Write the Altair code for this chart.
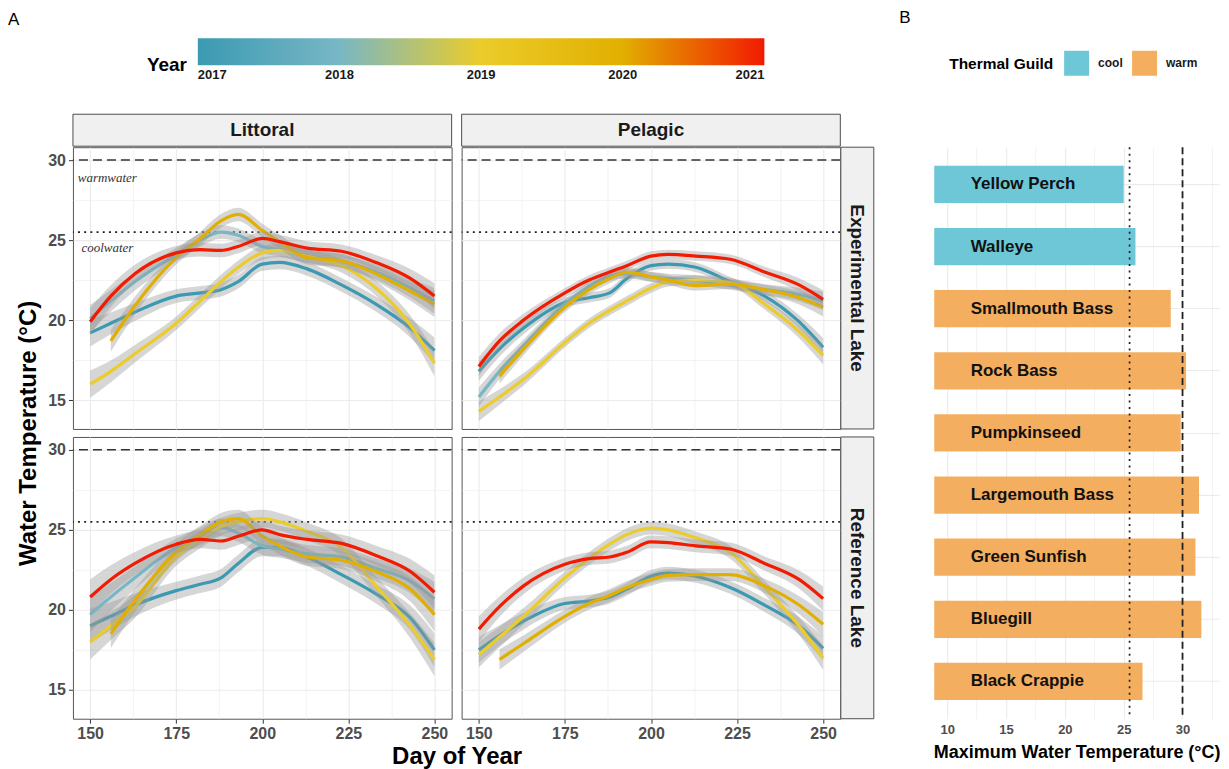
import altair as alt
import pandas as pd

FONT = "Liberation Sans"

# ---------------- data: panel A ----------------
years = [2017, 2018, 2019, 2020, 2021]
year_palette = ["#3B9AB2", "#78B7C5", "#EBCC2A", "#E1AF00", "#F21A00"]
days = [150, 156, 163, 175, 182, 188, 193, 200, 205, 213, 223, 233, 243, 250]
band_half = [1.0, 0.8, 0.65, 0.5, 0.5, 0.5, 0.5, 0.5, 0.5, 0.5, 0.5, 0.55, 0.7, 0.95]

littoral_experimental = {
    2017: [19.2, 19.8, 20.5, 21.5, 21.7, 21.9, 22.4, 23.5, 23.6, 23.2, 22.2, 21.0, 19.5, 18.1],
    2018: [20.1, 21.2, 22.4, 24.1, 25.0, 25.5, 25.3, 24.6, 24.4, 24.0, 23.7, 23.0, 22.0, 21.2],
    2019: [16.0, 16.8, 17.9, 19.8, 21.2, 22.4, 23.3, 24.2, 24.35, 24.0, 23.4, 22.0, 19.7, 17.3],
    2020: [None, 18.7, 20.9, 23.9, 25.1, 26.2, 26.6, 25.6, 24.9, 23.9, 23.7, 22.9, 21.8, 21.0],
    2021: [19.9, 21.5, 22.9, 24.2, 24.4, 24.35, 24.6, 25.1, 24.9, 24.5, 24.3, 23.6, 22.6, 21.5],
}
pelagic_experimental = {
    2017: [16.8, 18.2, 19.5, 21.1, 21.4, 21.7, 22.6, 23.4, 23.5, 23.3, 22.4, 21.5, 19.9, 18.3],
    2018: [15.2, 16.8, 18.4, 21.0, 22.1, 22.75, 22.9, 22.7, 22.6, 22.5, 22.2, 21.9, 21.6, 21.2],
    2019: [14.3, 15.2, 16.3, 18.6, 19.8, 20.6, 21.2, 22.0, 22.4, 22.5, 22.35, 21.0, 19.3, 17.8],
    2020: [None, 16.5, 18.2, 20.8, 21.9, 22.6, 23.0, 22.7, 22.5, 22.15, 22.25, 21.9, 21.4, 20.8],
    2021: [17.1, 18.7, 20.0, 21.7, 22.5, 23.0, 23.4, 24.0, 24.1, 24.0, 23.8, 23.0, 22.2, 21.3],
}
littoral_reference = {
    2017: [19.0, 19.6, 20.3, 21.2, 21.6, 22.0, 22.9, 23.9, 23.9, 23.3, 22.2, 21.0, 19.5, 17.5],
    2018: [19.7, 20.8, 22.0, 23.9, 24.6, 25.15, 24.8, 24.0, 23.8, 23.5, 23.3, 22.6, 21.8, 20.7],
    2019: [18.0, 19.0, 20.2, 23.3, 24.4, 25.2, 25.5, 25.7, 25.5, 24.9, 23.9, 21.5, 19.0, 16.9],
    2020: [None, 18.5, 20.6, 23.6, 24.7, 25.5, 25.7, 24.6, 24.0, 23.3, 23.1, 22.4, 21.3, 19.7],
    2021: [20.8, 21.9, 22.9, 24.1, 24.4, 24.3, 24.6, 25.0, 24.7, 24.4, 24.15, 23.4, 22.4, 21.1],
}
pelagic_reference = {
    2017: [17.5, 18.4, 19.3, 20.4, 20.55, 20.8, 21.3, 22.1, 22.3, 22.1, 21.4, 20.3, 19.0, 17.6],
    2019: [17.2, 18.3, 19.6, 22.0, 23.2, 24.1, 24.7, 25.1, 25.0, 24.5, 23.6, 21.4, 19.0, 17.0],
    2020: [None, 16.9, 17.9, 19.6, 20.4, 20.9, 21.4, 21.9, 22.15, 22.2, 22.2, 21.5, 20.3, 19.1],
    2021: [18.8, 20.2, 21.5, 22.85, 23.2, 23.3, 23.6, 24.25, 24.2, 24.0, 23.8, 22.9, 21.9, 20.7],
}
habitats = ["Littoral", "Pelagic"]
lakes = ["Experimental Lake", "Reference Lake"]
band_scale = {("Littoral", "Experimental Lake"): 0.85, ("Pelagic", "Experimental Lake"): 0.6,
              ("Littoral", "Reference Lake"): 1.1, ("Pelagic", "Reference Lake"): 0.8}
panel_series = {
    ("Littoral", "Experimental Lake"): littoral_experimental,
    ("Pelagic", "Experimental Lake"): pelagic_experimental,
    ("Littoral", "Reference Lake"): littoral_reference,
    ("Pelagic", "Reference Lake"): pelagic_reference,
}
warm_threshold = 30.0
cool_threshold = 25.5
annot_labels = ["warmwater", "coolwater"]
annot_day = [155, 155]
annot_temp = [28.9, 24.5]

# ---------------- data: panel B ----------------
species = ["Yellow Perch", "Walleye", "Smallmouth Bass", "Rock Bass", "Pumpkinseed",
           "Largemouth Bass", "Green Sunfish", "Bluegill", "Black Crappie"]
max_temp = [25.0, 26.0, 29.0, 30.3, 29.85, 31.4, 31.1, 31.6, 26.6]
guild = ["cool", "cool", "warm", "warm", "warm", "warm", "warm", "warm", "warm"]
guild_names = ["cool", "warm"]
guild_colors = ["#5DC1D2", "#F3A54E"]

# ---------------- build ----------------
rows = []
for key, series in panel_series.items():
    for yr, vals in series.items():
        for d, v, h in zip(days, vals, band_half):
            if v is None:
                continue
            hh = h * band_scale[key]
            rows.append(dict(habitat=key[0], lake=key[1], year=yr, day=d, temp=v,
                             lo=v - hh, hi=v + hh))
df = pd.DataFrame(rows)

W, H = 379, 282
xs = alt.Scale(domain=[145, 255], nice=False, zero=False)
ys = alt.Scale(domain=[13.2, 30.8], nice=False, zero=False)
x_grid = [150, 162.5, 175, 187.5, 200, 212.5, 225, 237.5, 250]
y_grid = [15, 17.5, 20, 22.5, 25, 27.5, 30]

stroke_enc = alt.Stroke(
    "year:Q",
    scale=alt.Scale(domain=years, range=year_palette, interpolate="rgb"),
    legend=alt.Legend(
        orient="none", legendX=74, legendY=-109, direction="horizontal",
        title="Year", titleOrient="left", titleFont=FONT, titleFontSize=19,
        titleFontWeight="bold", titleColor="black", titlePadding=10,
        titleAnchor="end", titleBaseline="middle",
        gradientLength=567, gradientThickness=27, gradientStrokeWidth=0,
        labelFont=FONT, labelFontSize=13, labelFontWeight="bold", labelColor="#1A1A1A",
        labelAlign="center", values=years, format="d", labelOffset=4,
    ),
)


def x_axis(show, title):
    kw = dict(
        values=x_grid, labelExpr="datum.value % 25 == 0 ? datum.label : ''",
        labels=show, ticks=show, domain=False, grid=True, gridColor="#EBEBEB",
        gridWidth={"condition": {"test": "datum.value % 25 == 0", "value": 1.1}, "value": 0.6},
        tickOpacity={"condition": {"test": "datum.value % 25 == 0", "value": 1}, "value": 0},
        tickSize=4.5, tickColor="#333333", tickWidth=1,
        labelFont=FONT, labelFontSize=16, labelFontWeight="bold", labelColor="#4D4D4D",
        labelPadding=2, labelFlush=False, labelOverlap=False,
    )
    if title:
        kw.update(title="Day of Year", titleX=384, titleFont=FONT, titleFontSize=24,
                  titleFontWeight="bold", titleColor="black", titlePadding=3)
    else:
        kw.update(title=None)
    return alt.Axis(**kw)


def y_axis(show, title):
    kw = dict(
        values=y_grid, labelExpr="datum.value % 5 == 0 ? datum.label : ''",
        labels=show, ticks=show, domain=False, grid=True, gridColor="#EBEBEB",
        gridWidth={"condition": {"test": "datum.value % 5 == 0", "value": 1.1}, "value": 0.6},
        tickOpacity={"condition": {"test": "datum.value % 5 == 0", "value": 1}, "value": 0},
        tickSize=4.5, tickColor="#333333", tickWidth=1,
        labelFont=FONT, labelFontSize=16, labelFontWeight="bold", labelColor="#4D4D4D",
        labelPadding=3, labelFlush=False, labelOverlap=False,
    )
    if title:
        kw.update(title="Water Temperature (°C)", titleY=286, titleFont=FONT,
                  titleFontSize=24, titleFontWeight="bold", titleColor="black",
                  titlePadding=7)
    else:
        kw.update(title=None)
    return alt.Axis(**kw)


def panel(hab, lake, show_x, show_y, top_strip, right_strip, annotate, letter):
    X = alt.X("day:Q", scale=xs, axis=x_axis(show_x, show_x and hab == "Littoral"))
    ya = y_axis(show_y, show_y and lake == "Experimental Lake")
    layers = []
    rule_df = pd.DataFrame({"temp": [warm_threshold]})
    rule_df2 = pd.DataFrame({"temp": [cool_threshold]})
    layers.append(alt.Chart(rule_df).mark_rule(strokeDash=[9, 5], strokeWidth=1.7, color="#333333")
                  .encode(y=alt.Y("temp:Q", scale=ys, axis=ya)))
    layers.append(alt.Chart(rule_df2).mark_rule(strokeDash=[2, 4.2], strokeWidth=1.7, color="#222222")
                  .encode(y=alt.Y("temp:Q", scale=ys, axis=ya)))
    sub = df[(df.habitat == hab) & (df.lake == lake)]
    for yr in years:
        d = sub[sub.year == yr]
        if d.empty:
            continue
        layers.append(alt.Chart(d).mark_area(interpolate="monotone", color="#999999", opacity=0.4)
                      .encode(x=X, y=alt.Y("lo:Q", scale=ys, axis=ya), y2="hi:Q"))
        layers.append(alt.Chart(d).mark_line(interpolate="monotone", strokeWidth=3.2)
                      .encode(x=X, y=alt.Y("temp:Q", scale=ys, axis=ya), stroke=stroke_enc))
    if annotate:
        adf = pd.DataFrame({"label": annot_labels, "day": annot_day, "temp": annot_temp})
        layers.append(alt.Chart(adf).mark_text(font="Liberation Serif", fontStyle="italic",
                                                fontSize=13, color="#333333")
                      .encode(x=X, y=alt.Y("temp:Q", scale=ys, axis=ya), text="label:N"))
    if top_strip:
        sdf = pd.DataFrame({"label": [hab]})
        layers.append(alt.Chart(sdf).mark_rect(fill="#F0F0F0", stroke="#4D4D4D", strokeWidth=1)
                      .encode(x=alt.value(0), x2=alt.value(W), y=alt.value(-33), y2=alt.value(-1)))
        layers.append(alt.Chart(sdf).mark_text(font=FONT, fontSize=19, fontWeight="bold",
                                               color="#1A1A1A", baseline="middle")
                      .encode(x=alt.value(W / 2), y=alt.value(-17), text="label:N"))
    if right_strip:
        sdf = pd.DataFrame({"label": [lake]})
        layers.append(alt.Chart(sdf).mark_rect(fill="#F0F0F0", stroke="#4D4D4D", strokeWidth=1)
                      .encode(x=alt.value(W + 0.5), x2=alt.value(W + 33.5), y=alt.value(0), y2=alt.value(H)))
        layers.append(alt.Chart(sdf).mark_text(font=FONT, fontSize=19, fontWeight="bold",
                                               color="#1A1A1A", angle=90, baseline="middle")
                      .encode(x=alt.value(W + 17), y=alt.value(H / 2), text="label:N"))
    if letter:
        ldf = pd.DataFrame({"label": [letter]})
        layers.append(alt.Chart(ldf).mark_text(font=FONT, fontSize=17, align="left",
                                               baseline="top", color="black")
                      .encode(x=alt.value(-65), y=alt.value(-135), text="label:N"))
    return alt.layer(*layers).properties(
        width=W, height=H, view=alt.ViewBackground(stroke="#555555", strokeWidth=1))


TL = panel("Littoral", "Experimental Lake", False, True, True, False, True, "A")
TR = panel("Pelagic", "Experimental Lake", False, False, True, True, False, None)
BL = panel("Littoral", "Reference Lake", True, True, False, False, False, None)
BR = panel("Pelagic", "Reference Lake", True, False, False, True, False, None)

A = alt.concat(TL, TR, BL, BR, columns=2, spacing={"row": 8, "column": 10}, bounds="flush")

# ---------------- panel B ----------------
BW, BH = 285, 572
bdf = pd.DataFrame({"species": species, "max_temp": max_temp, "guild": guild})
b_grid = [10, 12.5, 15, 17.5, 20, 22.5, 25, 27.5, 30, 32.5]
bxs = alt.Scale(domain=[8.9, 33.1], nice=False, zero=False)
bx_axis = alt.Axis(
    values=b_grid, labelExpr="datum.value % 5 == 0 ? datum.label : ''",
    grid=True, gridColor="#EBEBEB",
    gridWidth={"condition": {"test": "datum.value % 5 == 0", "value": 1.1}, "value": 0.6},
    ticks=False, domain=False, labelFont=FONT, labelFontSize=13, labelFontWeight="bold",
    labelColor="#4D4D4D", labelPadding=5, labelFlush=False, labelOverlap=False,
    title="Maximum Water Temperature (°C)", titleFont=FONT, titleFontSize=18,
    titleFontWeight="bold", titleColor="black", titlePadding=7,
)
bys = alt.Scale(domain=species, paddingInner=0.4, paddingOuter=0.3)
by_axis = alt.Axis(labels=False, ticks=False, domain=False, title=None, grid=True,
                   gridColor="#EBEBEB", gridWidth=1.1, bandPosition=0.5)
BX = alt.X("max_temp:Q", scale=bxs, axis=bx_axis)
BY = alt.Y("species:N", scale=bys, sort=species, axis=by_axis)

bars = alt.Chart(bdf).mark_bar(clip=True, opacity=0.9).encode(
    x=BX, y=BY,
    fill=alt.Fill("guild:N", scale=alt.Scale(domain=guild_names, range=guild_colors),
                  legend=alt.Legend(
                      orient="none", legendX=877, legendY=-96.5, direction="horizontal",
                      title="Thermal Guild", titleOrient="left", titleFont=FONT,
                      titleFontSize=15.5, titleFontWeight="bold", titleColor="black",
                      titlePadding=10, symbolType="square", symbolSize=625,
                      symbolStrokeWidth=0, symbolOpacity=0.9, labelFont=FONT,
                      labelFontSize=12, labelFontWeight="bold", labelColor="#1A1A1A",
                      labelOffset=9, columnPadding=9)),
)
labels = alt.Chart(bdf).mark_text(align="left", font=FONT, fontSize=17, fontWeight="bold",
                                  color="#111111").encode(
    x=alt.X(datum=12, scale=bxs, axis=bx_axis), y=BY, text="species:N")
rule_b1 = alt.Chart(pd.DataFrame({"max_temp": [cool_threshold]})).mark_rule(
    strokeDash=[2, 4.5], strokeWidth=1.7, color="#222222").encode(x=BX)
rule_b2 = alt.Chart(pd.DataFrame({"max_temp": [warm_threshold]})).mark_rule(
    strokeDash=[7, 4], strokeWidth=1.8, color="#222222").encode(x=BX)
bletter = alt.Chart(pd.DataFrame({"label": ["B"]})).mark_text(
    font=FONT, fontSize=17, align="left", baseline="top", color="black").encode(
    x=alt.value(-35), y=alt.value(-137), text="label:N")

B = alt.layer(bars, labels, rule_b1, rule_b2, bletter).properties(width=BW, height=BH)

chart = alt.hconcat(A, B, spacing=23).properties(
    padding={"left": -1, "top": 0, "right": 0, "bottom": 0}
).configure(font=FONT).configure_view(stroke="transparent")

chart.save("out.html", embed_options={"renderer": "svg", "actions": False})
